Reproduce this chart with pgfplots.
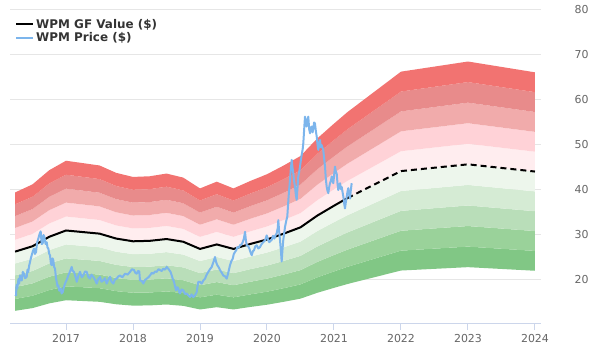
\documentclass[border=0pt]{standalone}
\usepackage{pgfplots}
\pgfplotsset{compat=1.18}
\usepackage{pgfplotstable}
\usepackage{fontspec}
\setmainfont{DejaVu Sans}
\definecolor{rA}{HTML}{F27371}
\definecolor{rB}{HTML}{E88B8B}
\definecolor{rC}{HTML}{F1ABAB}
\definecolor{rD}{HTML}{FFD2D7}
\definecolor{rE}{HTML}{FFEDEF}
\definecolor{gE}{HTML}{EDF6EC}
\definecolor{gD}{HTML}{D5EBD4}
\definecolor{gC}{HTML}{B9DEB9}
\definecolor{gB}{HTML}{9AD29A}
\definecolor{gA}{HTML}{81C785}
\definecolor{priceblue}{HTML}{7CB5EC}
\definecolor{gridgray}{HTML}{E6E6E6}
\definecolor{axisblue}{HTML}{CCD6EB}
\definecolor{ticktext}{HTML}{666666}
\definecolor{legtext}{HTML}{333333}

% x = years after 2016; b50 = lowest band edge (50% of GF Value); d = band step (10% of GF Value)
\pgfplotstableread{
x      b50    d
0.24   13.15  2.63
0.50   13.75  2.75
0.75   14.80  2.96
1.00   15.50  3.10
1.50   15.15  3.03
1.75   14.60  2.92
2.00   14.30  2.86
2.25   14.35  2.87
2.50   14.55  2.91
2.75   14.25  2.85
3.00   13.45  2.69
3.25   13.95  2.79
3.50   13.45  2.69
3.75   14.00  2.80
4.00   14.50  2.90
4.25   15.15  3.03
4.50   15.85  3.17
4.75   17.15  3.43
5.00   18.25  3.65
5.20   19.10  3.82
6.00   22.10  4.42
7.00   22.85  4.57
8.00   22.05  4.41
}\bands

\pgfplotstableread{
x      gf
0.24   26.3
0.50   27.5
0.75   29.6
1.00   31.0
1.50   30.3
1.75   29.2
2.00   28.6
2.25   28.7
2.50   29.1
2.75   28.5
3.00   26.9
3.25   27.9
3.50   26.9
3.75   28.0
4.00   29.0
4.25   30.3
4.50   31.7
4.75   34.3
5.00   36.5
5.20   38.2
}\gfsolid

\pgfplotstableread{
x      gf
5.20   38.2
6.00   44.2
7.00   45.7
8.00   44.1
}\gfdashed

\pgfplotstableread{
x      p
0.239 16.7
0.254 16.6
0.262 18.9
0.273 18.1
0.29 20.2
0.30 19.2
0.313 21.0
0.325 20.0
0.339 19.9
0.355 21.8
0.373 21.4
0.39 20.4
0.413 20.7
0.425 22.3
0.437 21.8
0.45 23.2
0.463 24.0
0.475 24.8
0.488 25.5
0.505 26.4
0.522 27.0
0.537 25.8
0.552 26.2
0.57 28.4
0.587 29.2
0.605 30.2
0.622 30.8
0.637 28.0
0.652 28.1
0.664 30.0
0.676 29.6
0.695 28.0
0.712 28.4
0.724 27.2
0.736 27.0
0.75 25.8
0.761 25.5
0.775 23.6
0.787 23.3
0.80 24.8
0.810 24.4
0.823 22.9
0.836 22.5
0.85 20.5
0.861 19.6
0.873 18.6
0.885 18.8
0.90 17.6
0.921 18.1
0.935 17.0
0.951 17.3
0.97 18.5
0.985 19.2
1.01 20.0
1.034 21.0
1.06 21.9
1.085 22.9
1.10 22.0
1.119 21.8
1.14 20.8
1.160 19.6
1.185 21.0
1.209 21.8
1.235 20.6
1.258 21.0
1.285 21.9
1.309 21.8
1.335 20.6
1.358 20.3
1.38 21.2
1.407 20.7
1.435 20.0
1.458 19.2
1.48 20.2
1.507 20.7
1.53 19.6
1.557 19.9
1.58 20.4
1.607 19.2
1.635 20.2
1.657 20.7
1.68 19.6
1.706 19.2
1.73 20.1
1.757 20.3
1.78 20.8
1.806 21.0
1.84 20.6
1.881 21.4
1.92 21.2
1.955 21.8
1.985 22.4
2.015 22.2
2.035 21.6
2.055 21.4
2.075 22.0
2.094 21.9
2.104 19.9
2.13 19.8
2.154 19.2
2.18 20.0
2.204 20.3
2.23 20.6
2.254 21.0
2.28 21.6
2.303 21.4
2.33 21.9
2.354 21.8
2.38 22.4
2.403 22.2
2.43 22.0
2.452 22.5
2.48 22.3
2.503 22.9
2.52 22.6
2.542 22.2
2.56 21.8
2.578 21.0
2.595 20.2
2.612 19.6
2.63 18.4
2.642 17.7
2.66 18.4
2.676 18.1
2.69 17.3
2.701 17.0
2.725 17.9
2.751 17.7
2.775 16.9
2.801 17.0
2.825 16.6
2.851 16.2
2.875 16.8
2.900 16.2
2.925 16.6
2.951 17.3
2.962 18.5
2.975 19.6
3.00 19.6
3.025 19.2
3.05 19.9
3.075 20.3
3.10 21.2
3.124 21.8
3.15 22.4
3.175 22.9
3.20 24.0
3.224 25.1
3.24 24.0
3.258 23.3
3.28 22.8
3.299 22.2
3.325 21.6
3.348 21.0
3.375 20.8
3.399 20.3
3.425 21.8
3.448 23.3
3.468 24.2
3.488 24.7
3.505 25.8
3.522 26.2
3.54 26.6
3.557 27.3
3.58 27.2
3.597 27.7
3.62 27.9
3.637 28.4
3.655 29.2
3.672 30.7
3.685 28.8
3.697 27.7
3.716 27.6
3.736 27.0
3.755 26.1
3.772 25.5
3.79 26.4
3.806 26.6
3.826 27.5
3.846 27.7
3.87 27.0
3.896 27.3
3.92 28.0
3.945 28.4
3.97 28.8
3.996 29.9
4.015 29.0
4.034 28.4
4.070 28.9
4.09 29.8
4.11 29.2
4.13 30.0
4.145 30.4
4.16 31.5
4.169 33.3
4.18 31.0
4.194 28.9
4.21 26.0
4.219 24.1
4.23 26.5
4.243 28.9
4.255 30.2
4.269 31.8
4.285 33.0
4.303 34.1
4.32 38.0
4.333 40.5
4.343 42.2
4.355 44.5
4.369 46.7
4.38 45.0
4.39 44.0
4.405 42.0
4.418 40.7
4.43 39.0
4.443 37.8
4.455 40.5
4.467 43.0
4.48 44.0
4.493 45.2
4.507 46.8
4.52 48.0
4.532 49.0
4.542 50.4
4.555 53.5
4.567 56.3
4.58 55.0
4.593 54.1
4.605 55.6
4.616 56.3
4.63 53.5
4.642 52.6
4.655 53.8
4.667 54.1
4.68 52.8
4.690 53.5
4.703 55.0
4.716 54.8
4.73 53.0
4.742 51.9
4.755 50.0
4.766 48.9
4.78 50.3
4.791 51.1
4.803 49.5
4.815 50.0
4.828 49.4
4.840 48.9
4.853 47.0
4.866 45.2
4.878 42.5
4.891 40.7
4.903 39.8
4.915 39.3
4.928 40.6
4.94 41.5
4.953 42.0
4.966 43.0
4.978 42.0
4.990 41.5
5.003 43.5
5.015 45.2
5.028 44.0
5.040 43.7
5.052 41.5
5.064 40.0
5.077 40.8
5.09 41.5
5.103 40.2
5.115 40.7
5.128 39.5
5.14 38.5
5.152 37.0
5.164 35.9
5.177 37.3
5.190 38.5
5.20 39.5
5.213 40.4
5.225 39.0
5.239 38.1
5.25 39.8
5.264 41.5
}\price

\begin{document}
\begin{tikzpicture}
\path (0,0) rectangle (600bp,360bp);
\begin{axis}[
  at={(10bp,37bp)}, anchor=south west,
  scale only axis, width=531bp, height=313bp,
  xmin=0.164, xmax=8.09, ymin=10.44, ymax=80,
  axis x line*=bottom, axis y line*=right,
  x axis line style={draw=axisblue, line width=1bp},
  y axis line style={draw=none},
  xtick={1,2,3,4,5,6,7,8},
  xticklabels={2017,2018,2019,2020,2021,2022,2023,2024},
  ytick={20,30,40,50,60,70,80},
  tick align=outside, major tick length=7bp,
  xtick style={draw=axisblue, line width=1bp},
  ytick style={draw=none},
  ymajorgrids, grid style={draw=gridgray, line width=1bp},
  /pgf/number format/assume math mode=true,
  ticklabel style={font=\fontsize{11}{13}\selectfont, text=ticktext},
  yticklabel style={anchor=west, xshift=23bp},
  xticklabel style={yshift=-1bp},
  legend style={at={(0,1)}, anchor=north west, xshift=2bp, yshift=-5bp,
    draw=none, fill=none, font=\bfseries\fontsize{12}{14}\selectfont, text=legtext,
    row sep=-1bp},
  legend cell align=left,
]
\addplot[stack plots=y, draw=none, forget plot] table[x=x,y=b50]{\bands};
\addplot[stack plots=y, fill=gA, draw=none, forget plot] table[x=x,y=d]{\bands} \closedcycle;
\addplot[stack plots=y, fill=gB, draw=none, forget plot] table[x=x,y=d]{\bands} \closedcycle;
\addplot[stack plots=y, fill=gC, draw=none, forget plot] table[x=x,y=d]{\bands} \closedcycle;
\addplot[stack plots=y, fill=gD, draw=none, forget plot] table[x=x,y=d]{\bands} \closedcycle;
\addplot[stack plots=y, fill=gE, draw=none, forget plot] table[x=x,y=d]{\bands} \closedcycle;
\addplot[stack plots=y, fill=rE, draw=none, forget plot] table[x=x,y=d]{\bands} \closedcycle;
\addplot[stack plots=y, fill=rD, draw=none, forget plot] table[x=x,y=d]{\bands} \closedcycle;
\addplot[stack plots=y, fill=rC, draw=none, forget plot] table[x=x,y=d]{\bands} \closedcycle;
\addplot[stack plots=y, fill=rB, draw=none, forget plot] table[x=x,y=d]{\bands} \closedcycle;
\addplot[stack plots=y, fill=rA, draw=none, forget plot] table[x=x,y=d]{\bands} \closedcycle;
\addplot[black, line width=2bp, forget plot] table[x=x,y=gf]{\gfsolid};
\addplot[black, line width=2bp, dash pattern=on 6bp off 4bp, forget plot] table[x=x,y=gf]{\gfdashed};
\addplot[priceblue, line width=2bp, line join=round, forget plot] table[x=x,y=p]{\price};
\addlegendimage{black, line width=2bp}
\addlegendentry{WPM GF Value (\$)}
\addlegendimage{priceblue, line width=2bp}
\addlegendentry{WPM Price (\$)}
\end{axis}
\end{tikzpicture}
\end{document}
